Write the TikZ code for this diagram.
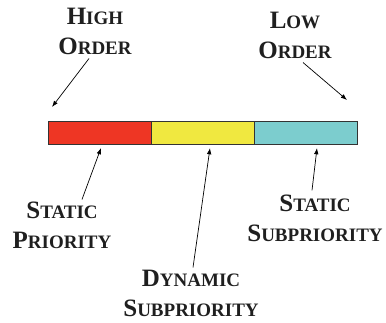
\documentclass[tikz,border=0pt]{standalone}
\usepackage{fontspec}
\setmainfont{Liberation Serif}[BoldFont={Liberation Serif Bold}]
\usetikzlibrary{arrows.meta,positioning,calc}
\newcommand{\initcap}[1]{{\fontsize{25}{30}\selectfont #1}}

\begin{document}
\begin{tikzpicture}[
  x=1pt, y=-1pt,
  field/.style={draw=black!80, line width=0.8pt, minimum width=103pt, minimum height=23pt, inner sep=0pt, outer sep=0pt},
  lbl/.style={font=\bfseries\fontsize{19}{30}\selectfont, align=center, inner sep=0pt, text=black!88},
  arrow/.style={-{Latex[length=2.2mm,width=1.6mm]}, line width=0.7pt}
]
\useasboundingbox (0,0) rectangle (386,322);

% the three fields of the priority word
\node[field, fill={rgb,255:red,238;green,54;blue,36}, anchor=north west] (red) at (48,121) {};
\node[field, fill={rgb,255:red,240;green,232;blue,64}, right=0pt of red] (yellow) {};
\node[field, fill={rgb,255:red,124;green,205;blue,206}, right=0pt of yellow] (teal) {};

% labels
\node[lbl] (high) at (95,31) {\initcap{H}IGH\\\initcap{O}RDER};
\node[lbl] (low) at (295,35) {\initcap{L}OW\\\initcap{O}RDER};
\node[lbl] (sp) at (62,225) {\initcap{S}TATIC\\\initcap{P}RIORITY};
\node[lbl] (dyn) at (191,293) {\initcap{D}YNAMIC\\\initcap{S}UBPRIORITY};
\node[lbl] (ss) at (315,218) {\initcap{S}TATIC\\\initcap{S}UBPRIORITY};

% arrow ends
\coordinate (hightip) at (52,107);
\coordinate (lowtip) at (347,100);
\coordinate (sptip) at (101,148);
\coordinate (dyntip) at (210,148);
\coordinate (sstip) at (317,148);

\draw[arrow] ($(high.south)+(-6,4)$) -- (hightip);
\draw[arrow] ($(low.south)+(8,4)$) -- (lowtip);
\draw[arrow] ($(sp.north)+(20,-2)$) -- (sptip);
\draw[arrow] ($(dyn.north)+(2,-2)$) -- (dyntip);
\draw[arrow] ($(ss.north)+(-3,-4)$) -- (sstip);
\end{tikzpicture}
\end{document}
